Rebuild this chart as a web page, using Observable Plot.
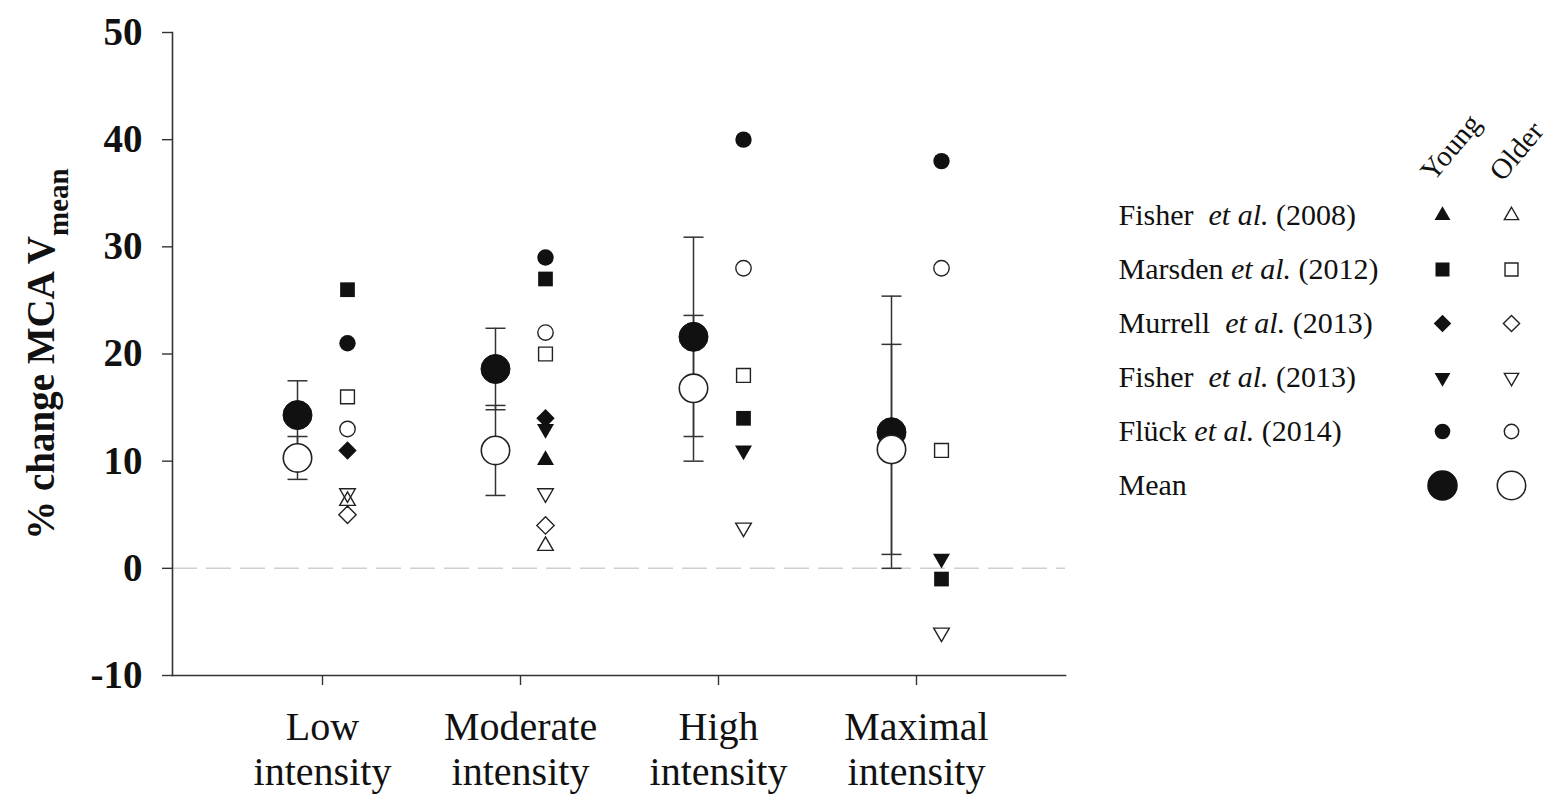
<!DOCTYPE html>
<html><head><meta charset="utf-8">
<script src="https://cdn.jsdelivr.net/npm/d3@7"></script>
<script src="https://cdn.jsdelivr.net/npm/@observablehq/plot@0.6"></script>
<style>
body{margin:0;background:#fff;}
#wrap{position:relative;width:1551px;height:804px;overflow:hidden;background:#fff;}
#chart,#legend{position:absolute;top:0;}
#chart{left:0;}
#legend{left:1100px;}
svg text{white-space:pre;}
</style></head><body>
<div id="wrap"><div id="chart"></div><div id="legend"></div></div>
<script>
// ---------------- data ----------------
const categories = ["Low intensity", "Moderate intensity", "High intensity", "Maximal intensity"];
const groups = ["Young", "Older"];
const studies = ["Fisher  et al. (2008)", "Marsden et al. (2012)", "Murrell  et al. (2013)", "Fisher  et al. (2013)", "Flück et al. (2014)"];
const yTicks = [-10, 0, 10, 20, 30, 40, 50];

// individual study values (% change), per category; null = not reported
const fisher2008Young  = [null, 10.1, null, null];
const fisher2008Older  = [6.3, 2.1, null, null];
const marsden2012Young = [26, 27, 14, -1];
const marsden2012Older = [16, 20, 18, 11];
const murrell2013Young = [11, 14, null, null];
const murrell2013Older = [5, 4, null, null];
const fisher2013Young  = [null, 13, 11, 0.9];
const fisher2013Older  = [7, 7, 3.8, -6];
const fluck2014Young   = [21, 29, 40, 38];
const fluck2014Older   = [13, 22, 28, 28];

// group means and error
const youngMean = [14.3, 18.6, 21.6, 12.7];
const youngErr  = [3.2, 3.8, 9.3, 12.7];
const olderMean = [10.3, 11.0, 16.8, 11.1];
const olderErr  = [2.0, 4.2, 6.8, 9.8];

// ---------------- styling ----------------
const FONT = "'Liberation Serif', 'Times New Roman', serif";
const INK = "#111";
const downTriangle = {
  draw(ctx, size) {
    const y = Math.sqrt(size / (Math.sqrt(3) * 3));
    ctx.moveTo(0, 2 * y);
    ctx.lineTo(-Math.sqrt(3) * y, -y);
    ctx.lineTo(Math.sqrt(3) * y, -y);
    ctx.closePath();
  }
};
const capSymbol = {draw(ctx) { ctx.moveTo(-10, 0); ctx.lineTo(10, 0); }};
const studyStyle = [
  {symbol: "triangle", r: 6.3},
  {symbol: "square", r: 8.3},
  {symbol: "diamond2", r: 8.3},
  {symbol: downTriangle, r: 6.3},
  {symbol: "circle", r: 8.2}
];
const studyValues = [
  [fisher2008Young, fisher2008Older],
  [marsden2012Young, marsden2012Older],
  [murrell2013Young, murrell2013Older],
  [fisher2013Young, fisher2013Older],
  [fluck2014Young, fluck2014Older]
];

// ---------------- tables ----------------
const meanTable = (means, errs, group) => categories.map((c, i) => ({cat: c, group, mean: means[i], err: errs[i]}));
const youngMeans = meanTable(youngMean, youngErr, "Young");
const olderMeans = meanTable(olderMean, olderErr, "Older");
const allMeans = [...youngMeans, ...olderMeans];

const studyMarks = [];
studies.forEach((s, si) => {
  studyValues[si].forEach((vals, gi) => {
    const rows = categories.map((c, i) => ({cat: c, v: vals[i]})).filter(d => d.v != null);
    const filled = gi === 0;
    studyMarks.push(Plot.dot(rows, {
      x: "cat", y: "v", dx: 25,
      symbol: studyStyle[si].symbol,
      r: filled ? studyStyle[si].r : studyStyle[si].r - 0.5,
      fill: filled ? INK : "none",
      stroke: filled ? "none" : "#222",
      strokeWidth: 1.4
    }));
  });
});

// ---------------- main chart ----------------
const chart = Plot.plot({
  width: 1551, height: 804,
  marginLeft: 172, marginRight: 486, marginTop: 32, marginBottom: 129,
  style: {fontFamily: FONT, background: "transparent", color: INK},
  x: {type: "point", domain: categories, padding: 0.755},
  y: {domain: [-10, 50]},
  marks: [
    Plot.ruleY([0], {stroke: "#cfcfcf", strokeWidth: 1.5, strokeDasharray: "25,9"}),
    Plot.frame({anchor: "left", stroke: "#333", strokeWidth: 1.6}),
    Plot.frame({anchor: "bottom", stroke: "#333", strokeWidth: 1.6}),
    Plot.axisY({ticks: yTicks, tickSize: 10, tickPadding: 20, tickFormat: d => String(d),
      fontSize: 39, fontWeight: "bold", stroke: "#333", strokeWidth: 1.4, label: null}),
    Plot.axisX({tickSize: 10, tickPadding: 22, tickFormat: d => d.replace(" ", "\n"),
      fontSize: 40, lineHeight: 1.13, stroke: "#333", strokeWidth: 1.4, label: null}),
    Plot.text(["% change MCA V"], {frameAnchor: "left", text: d => d, rotate: -90, dx: -131,
      textAnchor: "middle", fontSize: 39, fontWeight: "bold", className: "ytitle"}),
    // error bars
    Plot.ruleX(allMeans, {x: "cat", y1: d => d.mean - d.err, y2: d => d.mean + d.err, dx: -25, stroke: "#333", strokeWidth: 1.5}),
    Plot.dot(allMeans, {x: "cat", y: d => d.mean + d.err, dx: -25, symbol: capSymbol, fill: "none", stroke: "#333", strokeWidth: 1.5}),
    Plot.dot(allMeans, {x: "cat", y: d => d.mean - d.err, dx: -25, symbol: capSymbol, fill: "none", stroke: "#333", strokeWidth: 1.5}),
    // means
    Plot.dot(youngMeans, {x: "cat", y: "mean", dx: -25, r: 14.5, fill: INK, stroke: INK, strokeWidth: 1}),
    Plot.dot(olderMeans, {x: "cat", y: "mean", dx: -25, r: 14.2, fill: "white", stroke: "#222", strokeWidth: 1.6}),
    ...studyMarks
  ]
});
document.getElementById("chart").appendChild(chart);

// subscript in y title
const yt = chart.querySelector("g.ytitle text");
if (yt) {
  const sub = document.createElementNS("http://www.w3.org/2000/svg", "tspan");
  sub.setAttribute("font-size", "29");
  sub.setAttribute("dy", "14");
  sub.textContent = "mean";
  yt.appendChild(sub);
}

// ---------------- legend ----------------
const legendRows = [...studies, "Mean"];
const legendDots = [];
studies.forEach((s, si) => {
  groups.forEach((g, gi) => {
    const filled = gi === 0;
    legendDots.push(Plot.dot([{row: s, g}], {
      x: "g", y: "row",
      symbol: studyStyle[si].symbol,
      r: filled ? studyStyle[si].r - 0.4 : studyStyle[si].r - 1,
      fill: filled ? INK : "none",
      stroke: filled ? "none" : "#222",
      strokeWidth: 1.4
    }));
  });
});
const legend = Plot.plot({
  width: 451, height: 520,
  marginLeft: 18, marginTop: 182, marginRight: 0, marginBottom: 0,
  style: {fontFamily: FONT, background: "transparent", color: INK, overflow: "visible"},
  x: {type: "point", domain: groups, range: [342, 411], padding: 0, axis: null},
  y: {type: "point", domain: legendRows, range: [213, 486], padding: 0, axis: null},
  marks: [
    Plot.text(legendRows, {y: d => d, text: d => d, frameAnchor: "left", textAnchor: "start", fontSize: 30, className: "leglab"}),
    Plot.text(groups, {x: d => d, text: d => d, frameAnchor: "top", rotate: -50, textAnchor: "start", lineAnchor: "bottom", dx: -9, fontSize: 29}),
    ...legendDots,
    Plot.dot([{row: "Mean", g: "Young"}], {x: "g", y: "row", r: 14.5, fill: INK, stroke: INK}),
    Plot.dot([{row: "Mean", g: "Older"}], {x: "g", y: "row", r: 14.2, fill: "white", stroke: "#222", strokeWidth: 1.6})
  ]
});
document.getElementById("legend").appendChild(legend);

// italic "et al." in legend labels
legend.querySelectorAll("g.leglab text").forEach(t => {
  const s = t.textContent;
  const k = s.indexOf("et al.");
  if (k < 0) return;
  t.textContent = "";
  const parts = [[s.slice(0, k), null], ["et al.", "italic"], [s.slice(k + 6), null]];
  parts.forEach(([txt, st]) => {
    const ts = document.createElementNS("http://www.w3.org/2000/svg", "tspan");
    if (st) ts.setAttribute("font-style", st);
    ts.textContent = txt;
    t.appendChild(ts);
  });
});
</script>
</body></html>
